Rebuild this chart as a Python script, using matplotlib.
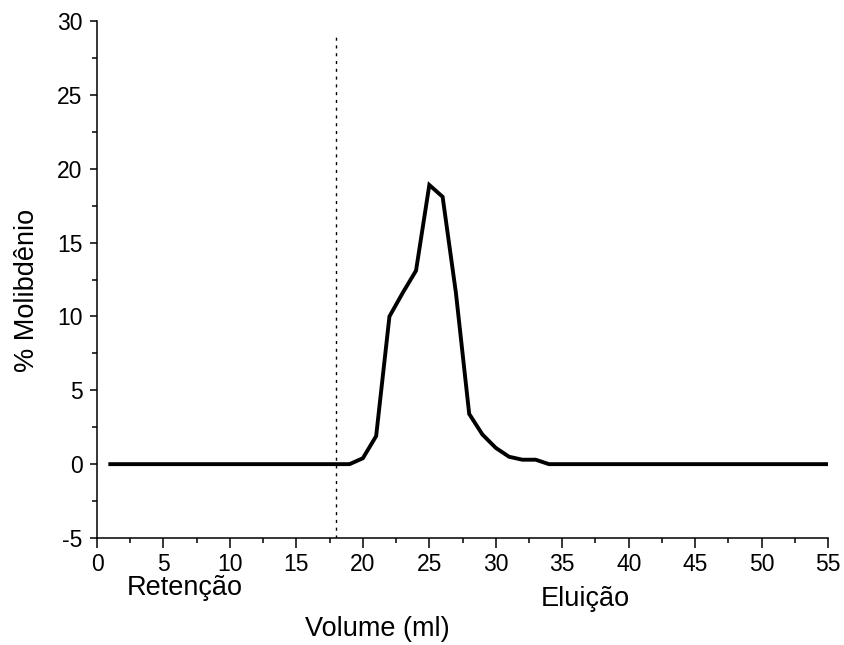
import matplotlib
matplotlib.use("Agg")
import matplotlib.pyplot as plt
from matplotlib.ticker import MultipleLocator

plt.rcParams['font.family'] = ['Liberation Sans', 'DejaVu Sans']
plt.rcParams['axes.unicode_minus'] = False

# data
volume = list(range(1, 56))
molib = ([0.0] * 18 +
         [0.0, 0.4, 1.9, 10.0, 11.6, 13.1, 18.9, 18.1, 11.6, 3.4,
          2.0, 1.1, 0.5, 0.3, 0.3] +
         [0.0] * 22)
cut_x = 18
cut_top = 29.1

xticks = list(range(0, 56, 5))
yticks = list(range(-5, 31, 5))

fig = plt.figure(figsize=(8.45, 6.45), dpi=100)
ax = fig.add_axes([0.1148, 0.1659, 0.8652, 0.8015])

ax.plot(volume, molib, color='black', lw=2.8, solid_joinstyle='miter')
ax.plot([cut_x, cut_x], [-5, cut_top], color='black', lw=1,
        linestyle=(0, (2.2, 3.4)))

ax.set_xlim(0, 55)
ax.set_ylim(-5, 30)
ax.set_xticks(xticks)
ax.set_yticks(yticks)
ax.xaxis.set_minor_locator(MultipleLocator(2.5))
ax.yaxis.set_minor_locator(MultipleLocator(2.5))

for s in ('top', 'right'):
    ax.spines[s].set_visible(False)
for s in ('left', 'bottom'):
    ax.spines[s].set_linewidth(1.1)

ax.tick_params(axis='x', which='major', direction='out', length=7, width=1.1,
               pad=3.5, labelsize=16.5)
ax.tick_params(axis='y', which='major', direction='out', length=5, width=1.1,
               pad=5.5, labelsize=16.5)
ax.tick_params(which='minor', direction='out', length=3.6, width=1.1)

ax.set_xlabel('Volume (ml)', fontsize=19.5)
ax.xaxis.set_label_coords(0.383, -0.151)
ax.set_ylabel('% Molibdênio', fontsize=19.5)
ax.yaxis.set_label_coords(-0.078, 0.478)

ax.text(6.6, -8.85, 'Retenção', fontsize=19.5, ha='center', va='baseline',
        clip_on=False)
ax.text(36.7, -9.6, 'Eluição', fontsize=19.5, ha='center', va='baseline',
        clip_on=False)

fig.savefig('out.png', dpi=100)
